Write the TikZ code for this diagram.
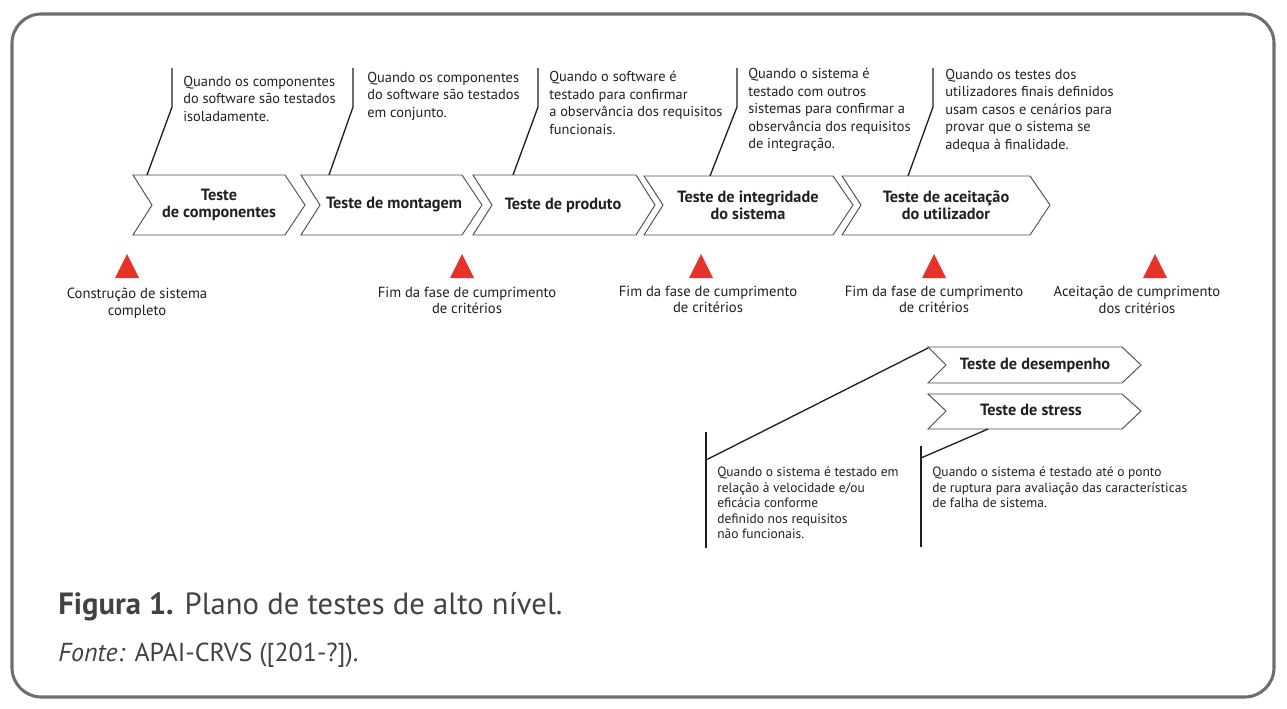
\documentclass[tikz,border=0pt]{standalone}
\usepackage{fontspec}
\setmainfont{PT Sans}
\usetikzlibrary{positioning}
\definecolor{rim}{HTML}{6D6E71}
\definecolor{ink}{HTML}{231F20}
\definecolor{alert}{HTML}{E5332A}
\newcommand{\nt}{\fontsize{10.8}{13.1}\selectfont}
\newcommand{\lnt}{\fontsize{10.1}{11.6}\selectfont}
\begin{document}
\begin{tikzpicture}[x=0.75pt,y=-0.75pt,
  chev/.style={draw=ink!80,line width=0.7pt,fill=white,line join=miter},
  phase/.style={inner sep=0pt,align=center,text=ink,font=\fontsize{12.2}{12.75}\selectfont\bfseries},
  note/.style={inner sep=0pt,align=left,anchor=north west,text=ink,font=\nt},
  lnote/.style={inner sep=0pt,align=left,anchor=north west,text=ink,font=\lnt},
  goal/.style={inner sep=0pt,align=center,anchor=north,text=ink,font=\fontsize{11}{12.2}\selectfont},
  lead/.style={draw=ink,line width=1pt},
  tri/.style={fill=alert}]
  \useasboundingbox (0,0) rectangle (1287,709);
  \draw[rim,line width=2.3pt,rounded corners=22pt] (12,14) rectangle (1274,697);

  \draw[chev] ( 133,175) -- ( 285,175) -- ( 305,205) -- ( 285,235) -- ( 133,235) -- ( 152,205) -- cycle;
  \draw[chev] ( 301,175) -- ( 462,175) -- ( 482,205) -- ( 462,235) -- ( 301,235) -- ( 320,205) -- cycle;
  \draw[chev] ( 473,175) -- ( 636,175) -- ( 655,205) -- ( 636,235) -- ( 473,235) -- ( 492,205) -- cycle;
  \draw[chev] ( 644,176) -- ( 833,176) -- ( 853,205) -- ( 833,235) -- ( 644,235) -- ( 663,205) -- cycle;
  \draw[chev] ( 842,176) -- (1030,176) -- (1050,205) -- (1030,235) -- ( 842,235) -- ( 861,205) -- cycle;
  \draw[chev] ( 928,347) -- (1122,347) -- (1141,365) -- (1122,383) -- ( 928,383) -- ( 946,365) -- cycle;
  \draw[chev] ( 928,394) -- (1122,394) -- (1141,411) -- (1122,429) -- ( 928,429) -- ( 946,411) -- cycle;

  \node[phase] (c1) at ( 219,205) {Teste\\de componentes};
  \node[phase] (c2) at ( 394,205) {Teste de montagem};
  \node[phase] (c3) at ( 563,205) {Teste de produto};
  \node[phase] (c4) at ( 748,205) {Teste de integridade\\do sistema};
  \node[phase] (c5) at ( 946,205) {Teste de aceitação\\do utilizador};
  \node[phase] (c6) at (1035,365) {Teste de desempenho};
  \node[phase] (c7) at (1031,410) {Teste de stress};

  \node[note] (n1) at (183,76) {Quando os componentes\\do software são testados\\isoladamente.};
  \node[note] (n2) at (367,72) {Quando os componentes\\do software são testados\\em conjunto.};
  \node[note] (n3) at (549,71) {Quando o software é\\testado para confirmar\\a observância dos requisitos\\funcionais.};
  \node[note] (n4) at (748,68) {Quando o sistema é\\testado com outros\\sistemas para confirmar a\\observância dos requisitos\\de integração.};
  \node[note] (n5) at (945,69) {Quando os testes dos\\utilizadores finais definidos\\usam casos e cenários para\\provar que o sistema se\\adequa à finalidade.};
  \node[lnote] (n6) at (717,467) {Quando o sistema é testado em\\relação à velocidade e/ou\\eficácia conforme\\definido nos requisitos\\não funcionais.};
  \node[lnote] (n7) at (932,467) {Quando o sistema é testado até o ponto\\de ruptura para avaliação das características\\de falha de sistema.};

  \coordinate (f1) at (147,175); \coordinate (b1) at (172,107); \coordinate (t1) at (172,68);
  \coordinate (f2) at (329,175); \coordinate (b2) at (353,107); \coordinate (t2) at (353,68);
  \coordinate (f3) at (513,175); \coordinate (b3) at (538,107); \coordinate (t3) at (538,68);
  \coordinate (f4) at (710,176); \coordinate (b4) at (737,107); \coordinate (t4) at (737,68);
  \coordinate (f5) at (908,176); \coordinate (b5) at (933,107); \coordinate (t5) at (933,68);
  \draw[lead] (f1) -- (b1) -- (t1);
  \draw[lead] (f2) -- (b2) -- (t2);
  \draw[lead] (f3) -- (b3) -- (t3);
  \draw[lead] (f4) -- (b4) -- (t4);
  \draw[lead] (f5) -- (b5) -- (t5);

  \coordinate (f6) at (928,348); \coordinate (b6) at (706,460);
  \coordinate (u6) at (706,432); \coordinate (d6) at (706,548);
  \coordinate (f7) at (988,429); \coordinate (b7) at (921,458);
  \coordinate (u7) at (921,446); \coordinate (d7) at (921,547);
  \draw[lead] (f6) -- (b6);
  \draw[lead] (u6) -- (d6);
  \draw[lead] (f7) -- (b7);
  \draw[lead] (u7) -- (d7);

  \fill[tri] ( 115,278) -- ( 127,254) -- ( 139,278) -- cycle;
  \fill[tri] ( 450,278) -- ( 462,254) -- ( 474,278) -- cycle;
  \fill[tri] ( 689,278) -- ( 701,254) -- ( 713,278) -- cycle;
  \fill[tri] ( 922,278) -- ( 934,254) -- ( 946,278) -- cycle;
  \fill[tri] (1143,278) -- (1155,254) -- (1167,278) -- cycle;

  \node[goal] (m1) at ( 137,288) {Construção de sistema\\completo};
  \node[goal] (m2) at ( 467,287) {Fim da fase de cumprimento\\de critérios};
  \node[goal] (m3) at ( 708,286) {Fim da fase de cumprimento\\de critérios};
  \node[goal] (m4) at ( 934,286) {Fim da fase de cumprimento\\de critérios};
  \node[goal] (m5) at (1137,286) {Aceitação de cumprimento\\dos critérios};

  \node[anchor=base west,inner sep=0pt,text=ink!85,font=\fontsize{23}{26}\selectfont] (cap) at (58,614)
    {\textbf{Figura 1.} Plano de testes de alto nível.};
  \node[anchor=base west,inner sep=0pt,text=ink!85,font=\fontsize{19.5}{22}\selectfont] (src) at (58,661)
    {\textit{Fonte:} APAI-CRVS ([201-?]).};
\end{tikzpicture}
\end{document}
